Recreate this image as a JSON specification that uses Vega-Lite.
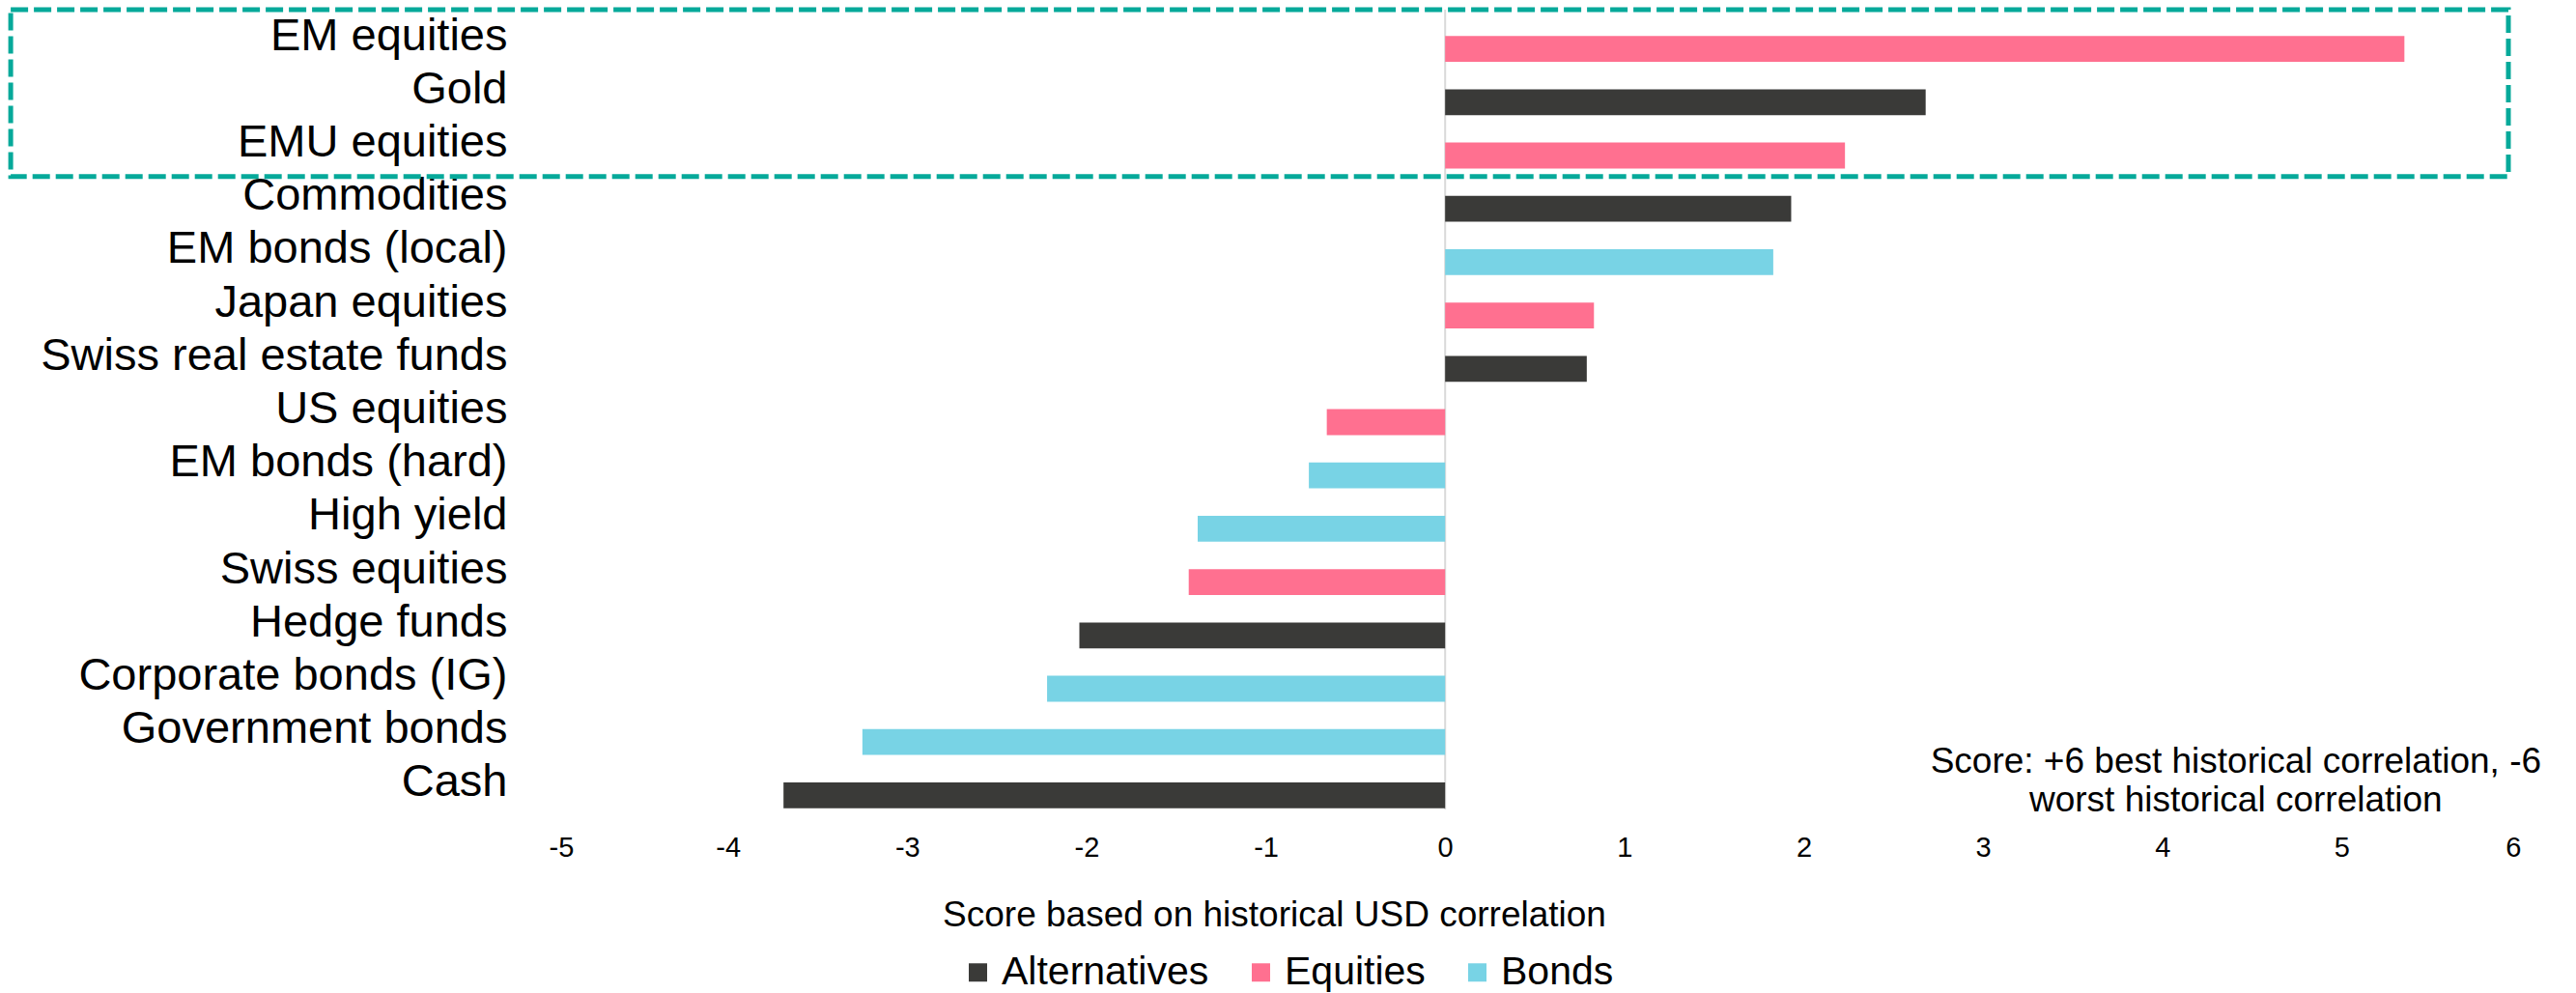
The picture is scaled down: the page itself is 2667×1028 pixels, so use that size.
{
  "$schema": "https://vega.github.io/schema/vega-lite/v6.json",
  "width": 2042,
  "height": 828,
  "autosize": {"type": "none"},
  "padding": {"left": 568, "top": 10, "right": 57, "bottom": 190},
  "background": "white",
  "config": {
    "view": {"stroke": null},
    "font": "Liberation Sans",
    "axis": {"grid": false, "domain": false, "ticks": false}
  },
  "layer": [
    {
      "data": {"values": [{}]},
      "mark": {"type": "rule", "color": "#D9D9D9", "strokeWidth": 2},
      "encoding": {
        "x": {"datum": 0, "type": "quantitative", "scale": {"domain": [-5, 6], "nice": false, "zero": false}}
      }
    },
    {
      "data": {
        "values": [
          {"asset": "EM equities", "score": 5.35, "class": "Equities"},
          {"asset": "Gold", "score": 2.68, "class": "Alternatives"},
          {"asset": "EMU equities", "score": 2.23, "class": "Equities"},
          {"asset": "Commodities", "score": 1.93, "class": "Alternatives"},
          {"asset": "EM bonds (local)", "score": 1.83, "class": "Bonds"},
          {"asset": "Japan equities", "score": 0.83, "class": "Equities"},
          {"asset": "Swiss real estate funds", "score": 0.79, "class": "Alternatives"},
          {"asset": "US equities", "score": -0.66, "class": "Equities"},
          {"asset": "EM bonds (hard)", "score": -0.76, "class": "Bonds"},
          {"asset": "High yield", "score": -1.38, "class": "Bonds"},
          {"asset": "Swiss equities", "score": -1.43, "class": "Equities"},
          {"asset": "Hedge funds", "score": -2.04, "class": "Alternatives"},
          {"asset": "Corporate bonds (IG)", "score": -2.22, "class": "Bonds"},
          {"asset": "Government bonds", "score": -3.25, "class": "Bonds"},
          {"asset": "Cash", "score": -3.69, "class": "Alternatives"}
        ]
      },
      "mark": {"type": "bar", "yOffset": 13},
      "encoding": {
        "y": {
          "field": "asset",
          "type": "nominal",
          "sort": null,
          "scale": {"paddingInner": 0.515, "paddingOuter": 0.2575},
          "axis": {
            "title": null,
            "labelFontSize": 47,
            "labelColor": "#000000",
            "labelPadding": 43,
            "labelLimit": 0
          }
        },
        "x": {
          "field": "score",
          "type": "quantitative",
          "scale": {"domain": [-5, 6], "nice": false, "zero": false},
          "axis": {
            "values": [-5, -4, -3, -2, -1, 0, 1, 2, 3, 4, 5, 6],
            "labelExpr": "datum.value < 0 ? '-' + abs(datum.value) : '' + datum.value",
            "labelFontSize": 29,
            "labelColor": "#000000",
            "labelPadding": 25,
            "title": "Score based on historical USD correlation",
            "titleFontSize": 37,
            "titleFontWeight": "normal",
            "titleColor": "#000000",
            "titleX": 751,
            "titleY": 120,
            "titleAlign": "center",
            "titleBaseline": "alphabetic"
          }
        },
        "color": {
          "field": "class",
          "type": "nominal",
          "scale": {
            "domain": ["Alternatives", "Equities", "Bonds"],
            "range": ["#3A3A38", "#FF7090", "#78D3E5"]
          },
          "legend": {
            "title": null,
            "orient": "none",
            "legendX": 424,
            "legendY": 976,
            "direction": "horizontal",
            "symbolType": "square",
            "symbolSize": 360,
            "symbolStrokeWidth": 0,
            "labelFontSize": 41,
            "labelColor": "#000000",
            "labelLimit": 0,
            "labelOffset": 4,
            "columnPadding": 33,
            "padding": 0
          }
        }
      }
    },
    {
      "data": {"values": [{}]},
      "mark": {"type": "rect", "filled": false, "stroke": "#06A99A", "strokeWidth": 5, "strokeDash": [18, 6], "clip": false},
      "encoding": {
        "x": {"datum": -8, "type": "quantitative", "scale": {"domain": [-5, 6], "nice": false, "zero": false}},
        "x2": {"datum": 5.93},
        "y": {"datum": 0, "type": "quantitative", "scale": {"domain": [0, 15], "reverse": true, "nice": false, "zero": false}, "axis": null},
        "y2": {"datum": 3.13}
      }
    },
    {
      "data": {"values": [{}]},
      "mark": {
        "type": "text",
        "text": ["Score: +6 best historical correlation, -6", "worst historical correlation"],
        "fontSize": 37,
        "align": "center",
        "baseline": "alphabetic",
        "lineHeight": 40,
        "color": "#000000",
        "clip": false
      },
      "encoding": {
        "x": {"datum": 4.41, "type": "quantitative", "scale": {"domain": [-5, 6], "nice": false, "zero": false}},
        "y": {"datum": 14.31, "type": "quantitative", "scale": {"domain": [0, 15], "reverse": true, "nice": false, "zero": false}, "axis": null}
      }
    }
  ],
  "resolve": {"scale": {"y": "independent"}}
}
